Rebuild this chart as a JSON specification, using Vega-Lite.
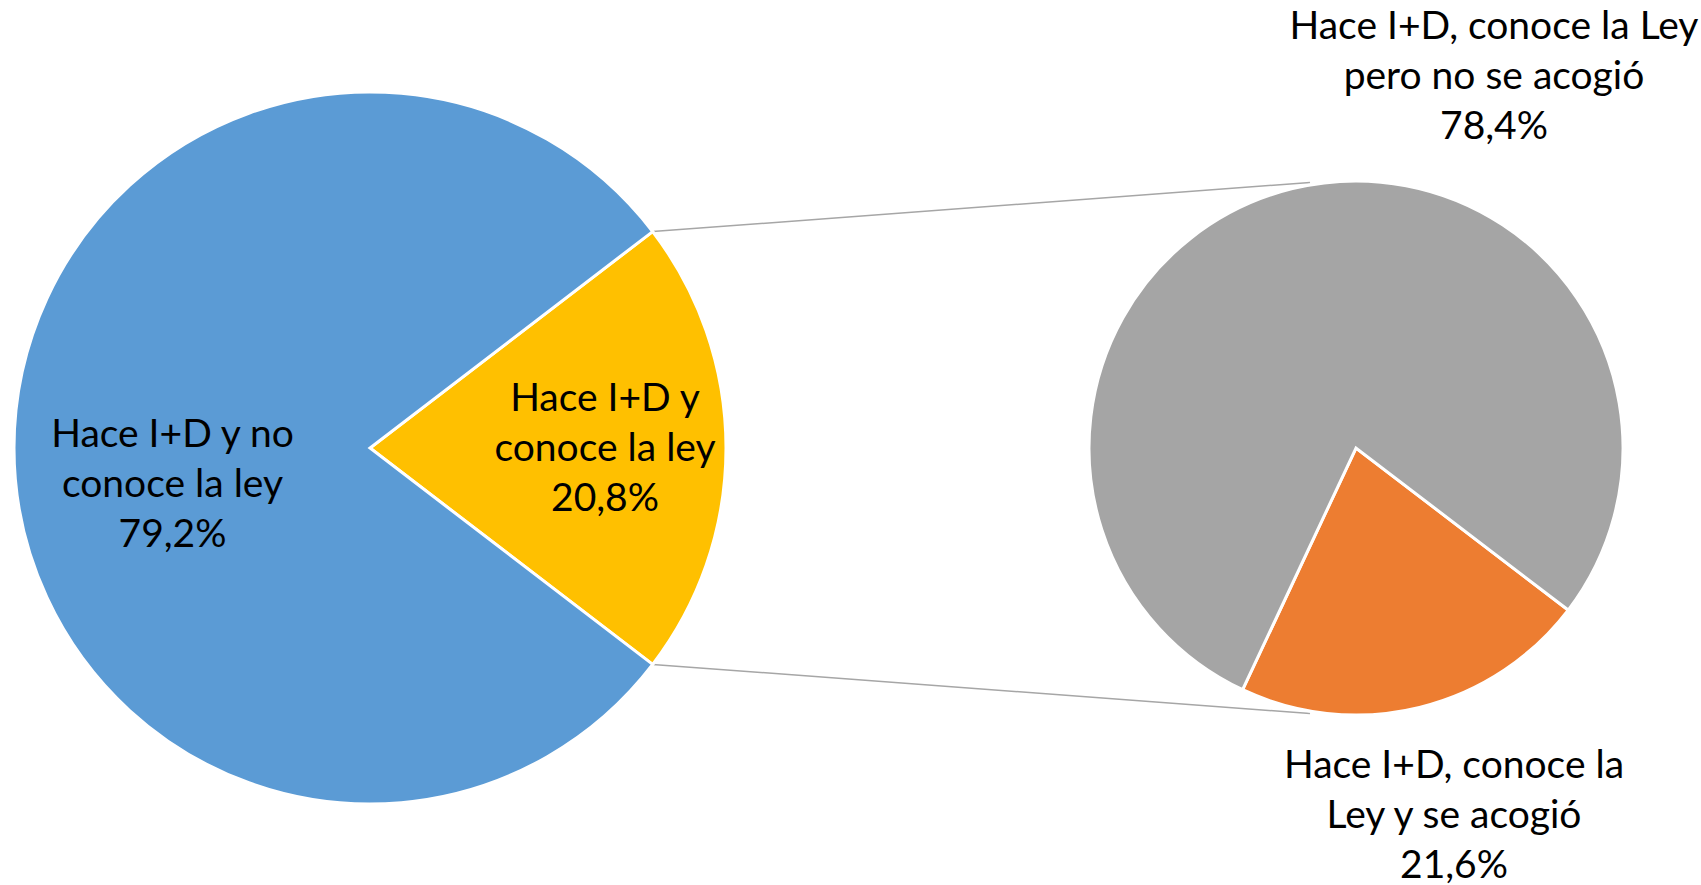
{
  "$schema": "https://vega.github.io/schema/vega-lite/v6.json",
  "width": 1701,
  "height": 885,
  "autosize": {"type": "none"},
  "padding": 0,
  "background": "white",
  "config": {
    "view": {"stroke": null},
    "locale": {"number": {"decimal": ",", "thousands": ".", "grouping": [3], "currency": ["", " €"]}},
    "text": {"font": "Lato", "fontSize": 39, "lineHeight": 50, "color": "#000000", "align": "center", "baseline": "middle", "lineBreak": "\n"}
  },
  "datasets": {
    "main": [
      {"cat": "Hace I+D y conoce la ley", "line1": "Hace I+D y", "line2": "conoce la ley", "pct": 20.8, "ord": 1},
      {"cat": "Hace I+D y no conoce la ley", "line1": "Hace I+D y no", "line2": "conoce la ley", "pct": 79.2, "ord": 2}
    ],
    "sub": [
      {"cat": "Hace I+D, conoce la Ley y se acogió", "line1": "Hace I+D, conoce la", "line2": "Ley y se acogió", "pct": 21.6, "ord": 1},
      {"cat": "Hace I+D, conoce la Ley pero no se acogió", "line1": "Hace I+D, conoce la Ley", "line2": "pero no se acogió", "pct": 78.4, "ord": 2}
    ]
  },
  "resolve": {"scale": {"theta": "independent"}},
  "layer": [
    {
      "data": {"name": "main"},
      "transform": [{"filter": "datum.ord == 1"}],
      "mark": {"type": "rule", "color": "#A6A6A6", "strokeWidth": 1.5},
      "encoding": {
        "x": {"datum": 652.7, "type": "quantitative", "scale": {"domain": [0, 1701], "nice": false, "zero": false}, "axis": null},
        "y": {"datum": 231.6, "type": "quantitative", "scale": {"domain": [0, 885], "nice": false, "zero": false, "reverse": true}, "axis": null},
        "x2": {"datum": 1310},
        "y2": {"datum": 182.5}
      }
    },
    {
      "data": {"name": "main"},
      "transform": [{"filter": "datum.ord == 1"}],
      "mark": {"type": "rule", "color": "#A6A6A6", "strokeWidth": 1.5},
      "encoding": {
        "x": {"datum": 652.7, "type": "quantitative"},
        "y": {"datum": 664.4, "type": "quantitative"},
        "x2": {"datum": 1310},
        "y2": {"datum": 713.5}
      }
    },
    {
      "data": {"name": "main"},
      "mark": {"type": "arc", "radius": 356, "stroke": "white", "strokeWidth": 3, "strokeJoin": "miter"},
      "encoding": {
        "x": {"datum": 370, "type": "quantitative"},
        "y": {"datum": 448, "type": "quantitative"},
        "theta": {"field": "pct", "type": "quantitative", "stack": true, "scale": {"range": [0.9173, 7.2005]}},
        "order": {"field": "ord"},
        "color": {"field": "cat", "type": "nominal", "legend": null,
          "scale": {"domain": ["Hace I+D y no conoce la ley", "Hace I+D y conoce la ley", "Hace I+D, conoce la Ley pero no se acogió", "Hace I+D, conoce la Ley y se acogió"],
                    "range": ["#5B9BD5", "#FFC000", "#A5A5A5", "#ED7D31"]}}
      }
    },
    {
      "data": {"name": "sub"},
      "mark": {"type": "arc", "radius": 267, "stroke": "white", "strokeWidth": 3, "strokeJoin": "miter"},
      "encoding": {
        "x": {"datum": 1356, "type": "quantitative"},
        "y": {"datum": 448, "type": "quantitative"},
        "theta": {"field": "pct", "type": "quantitative", "stack": true, "scale": {"range": [2.223, 8.5062]}},
        "order": {"field": "ord"},
        "color": {"field": "cat", "type": "nominal", "legend": null}
      }
    },
    {
      "data": {"name": "main"},
      "transform": [
        {"filter": "datum.ord == 2"},
        {"calculate": "datum.line1 + '\\n' + datum.line2 + '\\n' + format(datum.pct / 100, '.1%')", "as": "txt"}
      ],
      "mark": {"type": "text"},
      "encoding": {
        "x": {"datum": 172.5, "type": "quantitative"},
        "y": {"datum": 435, "type": "quantitative"},
        "text": {"field": "txt"}
      }
    },
    {
      "data": {"name": "main"},
      "transform": [
        {"filter": "datum.ord == 1"},
        {"calculate": "datum.line1 + '\\n' + datum.line2 + '\\n' + format(datum.pct / 100, '.1%')", "as": "txt"}
      ],
      "mark": {"type": "text"},
      "encoding": {
        "x": {"datum": 605, "type": "quantitative"},
        "y": {"datum": 399, "type": "quantitative"},
        "text": {"field": "txt"}
      }
    },
    {
      "data": {"name": "sub"},
      "transform": [
        {"filter": "datum.ord == 2"},
        {"calculate": "datum.line1 + '\\n' + datum.line2 + '\\n' + format(datum.pct / 100, '.1%')", "as": "txt"}
      ],
      "mark": {"type": "text"},
      "encoding": {
        "x": {"datum": 1494, "type": "quantitative"},
        "y": {"datum": 27, "type": "quantitative"},
        "text": {"field": "txt"}
      }
    },
    {
      "data": {"name": "sub"},
      "transform": [
        {"filter": "datum.ord == 1"},
        {"calculate": "datum.line1 + '\\n' + datum.line2 + '\\n' + format(datum.pct / 100, '.1%')", "as": "txt"}
      ],
      "mark": {"type": "text"},
      "encoding": {
        "x": {"datum": 1454, "type": "quantitative"},
        "y": {"datum": 766, "type": "quantitative"},
        "text": {"field": "txt"}
      }
    }
  ]
}
